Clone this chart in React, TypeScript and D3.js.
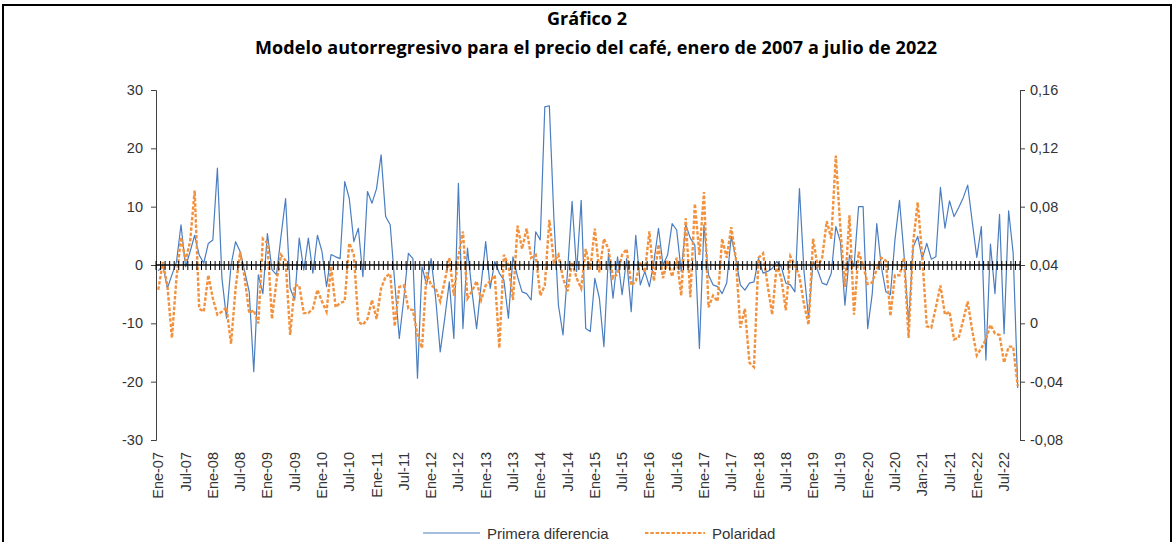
import React, { useEffect, useRef } from "react";
import * as d3 from "d3";

// Primera diferencia del precio (eje izquierdo), mensual desde Ene-07
const primeraDiferencia: number[] = [
  -1, 0, -4, -1.7, 0.5, 6.9, -0.3, 2.3, 5.1, 1.7,
  0.3, 3.7, 4.3, 16.6, -2.3, -9.1, 0, 4.0, 2.3, -1.1,
  -4.6, -18.3, -1.7, -4.9, 5.4, -0.8, -1.7, 5, 11.4, -4.0,
  -6.0, 4.6, -0.9, 4.6, -1.4, 5.1, 2.3, -3.7, 1.8, 1.4,
  1.1, 14.3, 11.4, 4.0, 6.3, -2.0, 12.6, 10.6, 13.1, 18.9,
  8.3, 6.9, -3, -12.6, -5.7, 2.0, 1.1, -19.4, -0.3, -3.4,
  1.1, -5.7, -14.9, -9.1, -2.9, -12.6, 14.0, -10.9, 2.9, -4.6,
  -10.9, -3.4, 4.0, -4.0, 0.6, -1.4, -2.6, -9.1, 1.4, -2.0,
  -4.6, -4.9, -6.0, 5.7, 4.3, 27.1, 27.3, 8, -6.9, -12.0,
  -1.1, 10.9, -1.1, 11.1, -10.9, -11.4, -2.3, -5.7, -14.0, 2.0,
  -5.7, 1.4, -5.1, 1.1, -8.0, 5.1, -3.4, -1.1, -3.7, 0.6,
  6.3, 0, 1.7, 7.1, 6.0, -1.1, 6.9, 4.6, 3.4, -14.3,
  6.9, -1.7, -3.4, -3.7, -4.9, -3.1, 4.9, 1.1, -3.4, -4.3,
  -3.1, -2.9, 1.1, -1.4, -1.1, -0.6, 0.6, -0.3, -3.1, -3.4,
  -4.6, 13.1, -1.1, -9.1, 0.6, -0.9, -3.1, -3.4, -1.4, 6.6,
  4.0, -6.9, 1.7, -0.3, 10.0, 10.0, -10.9, -5, 7.1, -0.3,
  -4.6, -5.1, 4.3, 11.1, 1.7, -10.0, 3.1, 4.9, 1.1, 3.7,
  1.0, 1.4, 13.3, 6.3, 11.0, 8.3, 9.8, 11.5, 13.7, 7.4,
  1.3, 6.6, -16.3, 3.6, -4.9, 8.7, -11.8, 9.3, 2.0, -21.1,
];

// Polaridad (eje derecho)
const polaridad: number[] = [
  0.023, 0.042, 0.026, -0.01, 0.031, 0.059, 0.043, 0.056, 0.091, 0.01,
  0.008, 0.033, 0.017, 0.006, 0.008, 0.011, -0.014, 0.024, 0.049, 0.031,
  0.007, 0.009, 0.0, 0.058, 0.055, 0.003, 0.029, 0.047, 0.043, -0.008,
  0.026, 0.026, 0.007, 0.007, 0.01, 0.023, 0.015, 0.008, 0.039, 0.011,
  0.014, 0.015, 0.055, 0.047, 0.001, -0.001, 0.003, 0.016, 0.003, 0.024,
  0.032, 0.034, -0.002, 0.025, 0.026, 0.01, 0.009, -0.008, -0.017, 0.035,
  0.026, 0.024, 0.015, 0.029, 0.045, 0.019, 0.046, 0.063, 0.017, 0.022,
  0.029, 0.016, 0.026, 0.029, 0.033, -0.017, 0.047, 0.04, 0.016, 0.067,
  0.051, 0.065, 0.045, 0.047, 0.019, 0.026, 0.071, 0.042, 0.047, 0.031,
  0.022, 0.042, 0.031, 0.024, 0.051, 0.037, 0.065, 0.035, 0.058, 0.051,
  0.031, 0.034, 0.047, 0.051, 0.026, 0.029, 0.042, 0.035, 0.063, 0.029,
  0.054, 0.031, 0.043, 0.032, 0.045, 0.019, 0.072, 0.018, 0.082, 0.047,
  0.09, 0.011, 0.019, 0.015, 0.058, 0.045, 0.066, 0.045, -0.003, 0.01,
  -0.027, -0.03, 0.045, 0.048, 0.026, 0.006, 0.04, 0.031, 0.009, 0.046,
  0.04, 0.032, 0.013, -0.001, 0.058, 0.039, 0.045, 0.07, 0.058, 0.115,
  0.065, 0.025, 0.074, 0.006, 0.049, 0.04, 0.027, 0.028, 0.037, 0.045,
  0.043, 0.005, 0.033, 0.033, 0.045, -0.01, 0.055, 0.083, 0.046, -0.002,
  -0.003, 0.011, 0.026, 0.006, 0.008, -0.011, -0.01, 0.002, 0.015, -0.005,
  -0.022, -0.017, -0.011, -0.001, -0.007, -0.008, -0.027, -0.016, -0.016, -0.043,
];

// etiquetas del eje X (cada 6 meses)
const xTickLabels: string[] = [
  "Ene-07", "Jul-07", "Ene-08", "Jul-08", "Ene-09", "Jul-09", "Ene-10", "Jul-10",
  "Ene-11", "Jul-11", "Ene-12", "Jul-12", "Ene-13", "Jul-13", "Ene-14", "Jul-14",
  "Ene-15", "Jul-15", "Ene-16", "Jul-16", "Ene-17", "Jul-17", "Ene-18", "Jul-18",
  "Ene-19", "Jul-19", "Ene-20", "Jul-20", "Jan-21", "Jul-21", "Ene-22", "Jul-22",
];

const leftTicks: number[] = [-30, -20, -10, 0, 10, 20, 30];
const rightTicks: number[] = [-0.08, -0.04, 0, 0.04, 0.08, 0.12, 0.16];
const rightTickLabels: string[] = ["-0,08", "-0,04", "0", "0,04", "0,08", "0,12", "0,16"];

const W = 1175;
const H = 542;

export default function App() {
  const svgRef = useRef<SVGSVGElement>(null);

  useEffect(() => {
    if (!svgRef.current) return;
    const svg = d3.select(svgRef.current);
    svg.selectAll("*").remove();

    const font = "'Liberation Sans', Arial, sans-serif";
    const textColor = "#333";
    const plot = { left: 156, right: 1020, top: 90, bottom: 440 };

    // marco
    svg
      .append("path")
      .attr("d", `M3,${H + 5} V5 H1171 V${H + 5}`)
      .attr("fill", "none")
      .attr("stroke", "#000")
      .attr("stroke-width", 2);

    // títulos
    svg
      .append("text")
      .attr("x", 587)
      .attr("y", 25)
      .attr("text-anchor", "middle")
      .style("font-family", "'Open Sans', sans-serif")
      .style("font-weight", "bold")
      .style("font-size", "18px")
      .text("Gráfico 2");

    svg
      .append("text")
      .attr("x", 596)
      .attr("y", 54)
      .attr("text-anchor", "middle")
      .attr("textLength", 682)
      .style("font-family", "'Open Sans', sans-serif")
      .style("font-weight", "bold")
      .style("font-size", "18px")
      .text("Modelo autorregresivo para el precio del café, enero de 2007 a julio de 2022");

    // escalas
    const x = d3
      .scaleBand<number>()
      .domain(d3.range(primeraDiferencia.length))
      .range([plot.left, plot.right]);
    const cx = (i: number) => (x(i) as number) + x.bandwidth() / 2;

    const yLeft = d3.scaleLinear().domain([-30, 30]).range([plot.bottom, plot.top]);
    const yRight = d3.scaleLinear().domain([-0.08, 0.16]).range([plot.bottom, plot.top]);

    // eje izquierdo
    const gl = svg
      .append("g")
      .attr("transform", `translate(${plot.left},0)`)
      .call(
        d3
          .axisLeft(yLeft)
          .tickValues(leftTicks)
          .tickSize(5)
          .tickPadding(8)
          .tickFormat((d) => String(d))
      );
    gl.select(".domain").attr("stroke", "#404040");
    gl.selectAll(".tick line").attr("stroke", "#404040");
    gl.selectAll("text")
      .style("font-family", font)
      .style("font-size", "14.5px")
      .attr("fill", textColor);

    // eje derecho
    const gr = svg
      .append("g")
      .attr("transform", `translate(${plot.right},0)`)
      .call(
        d3
          .axisRight(yRight)
          .tickValues(rightTicks)
          .tickSize(5)
          .tickPadding(5)
          .tickFormat((d, i) => rightTickLabels[i])
      );
    gr.select(".domain").attr("stroke", "#404040");
    gr.selectAll(".tick line").attr("stroke", "#404040");
    gr.selectAll("text")
      .style("font-family", font)
      .style("font-size", "14.5px")
      .attr("fill", textColor);

    // series
    const lineLeft = d3
      .line<number>()
      .x((_, i) => cx(i))
      .y((d) => yLeft(d));
    const lineRight = d3
      .line<number>()
      .x((_, i) => cx(i))
      .y((d) => yRight(d));

    svg
      .append("path")
      .datum(primeraDiferencia)
      .attr("fill", "none")
      .attr("stroke", "#4A7EC0")
      .attr("stroke-width", 1.2)
      .attr("stroke-linejoin", "round")
      .attr("d", lineLeft);

    svg
      .append("path")
      .datum(polaridad)
      .attr("fill", "none")
      .attr("stroke", "#F2913E")
      .attr("stroke-width", 2.4)
      .attr("stroke-dasharray", "3.5,1.8")
      .attr("d", lineRight);

    // eje horizontal en cero con marcas mensuales
    const y0 = yLeft(0);
    const gx = svg.append("g");
    gx.append("line")
      .attr("x1", plot.left)
      .attr("x2", plot.right)
      .attr("y1", y0)
      .attr("y2", y0)
      .attr("stroke", "#000")
      .attr("stroke-width", 1.5);
    gx.selectAll(".mtick")
      .data(d3.range(primeraDiferencia.length + 1))
      .enter()
      .append("line")
      .attr("class", "mtick")
      .attr("x1", (i) => (i < primeraDiferencia.length ? (x(i) as number) : plot.right))
      .attr("x2", (i) => (i < primeraDiferencia.length ? (x(i) as number) : plot.right))
      .attr("y1", y0 - 4)
      .attr("y2", y0 + 5)
      .attr("stroke", "#000")
      .attr("stroke-width", 1);

    // etiquetas del eje X
    svg
      .append("g")
      .selectAll("text")
      .data(xTickLabels)
      .enter()
      .append("text")
      .attr("transform", (_, k) => `translate(${cx(k * 6) + 5},452) rotate(-90)`)
      .attr("text-anchor", "end")
      .style("font-family", font)
      .style("font-size", "14.5px")
      .attr("fill", textColor)
      .text((d) => d);

    // leyenda
    const legend = svg.append("g").attr("transform", "translate(0,533)");
    legend
      .append("line")
      .attr("x1", 423)
      .attr("x2", 480)
      .attr("stroke", "#4A7EC0")
      .attr("stroke-width", 1.2);
    legend
      .append("text")
      .attr("x", 487)
      .attr("y", 5.5)
      .style("font-family", font)
      .style("font-size", "15px")
      .attr("fill", textColor)
      .text("Primera diferencia");
    legend
      .append("line")
      .attr("x1", 645)
      .attr("x2", 705)
      .attr("stroke", "#F2913E")
      .attr("stroke-width", 2)
      .attr("stroke-dasharray", "3.5,1.8");
    legend
      .append("text")
      .attr("x", 712)
      .attr("y", 5.5)
      .style("font-family", font)
      .style("font-size", "15px")
      .attr("fill", textColor)
      .text("Polaridad");
  }, []);

  return (
    <svg
      ref={svgRef}
      width={W}
      height={H}
      style={{ position: "absolute", left: 0, top: 0, background: "#fff" }}
    />
  );
}
